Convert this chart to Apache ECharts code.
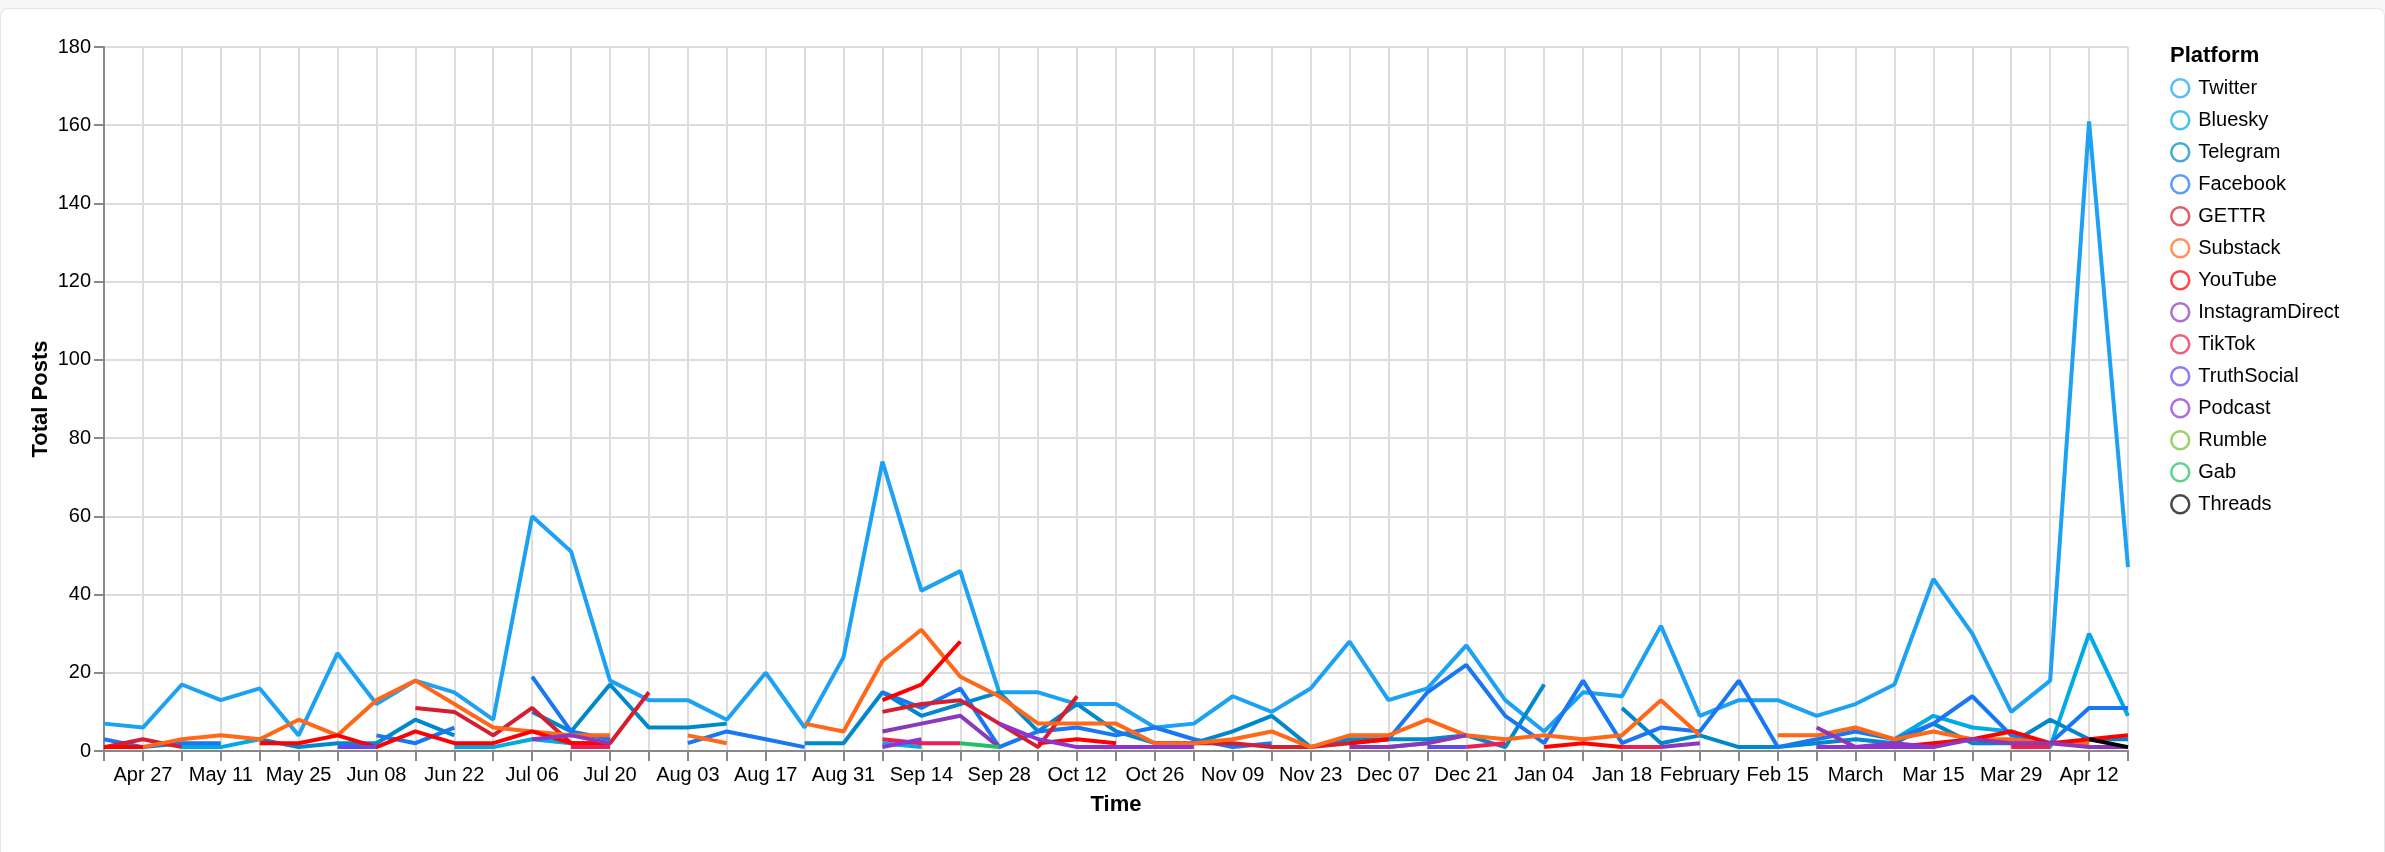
<!DOCTYPE html>
<html>
<head>
<meta charset="utf-8">
<title>Total Posts by Platform</title>
<script src="https://cdn.jsdelivr.net/npm/echarts@6/dist/echarts.min.js"></script>
<style>
  html, body { margin: 0; padding: 0; background: #f5f6f8; width: 2385px; height: 852px; overflow: hidden; }
  .card { position: absolute; left: 0; top: 8px; width: 2383px; height: 880px; background: #fff; border: 1px solid #e3e5e9; border-radius: 8px; }
  #chart { position: absolute; left: 0; top: 0; width: 2385px; height: 852px; }
</style>
</head>
<body>
<div class="card"></div>
<div id="chart"></div>
<script>
const n = null;

// weekly totals, one entry per week starting Sun 2025-04-20 (53 weeks)
const Twitter = [7,6,17,13,16,4,25,12,18,15, 8,60,51,18,13,13,8,20,6,24, 74,41,46,15,15,12,12,6,7,14, 10,16,28,13,16,27,13,5,15,14, 32,9,13,13,9,12,17,44,30,10, 18,161,47];
const Bluesky = [n,n,1,1,3,n,n,n,n,1, 1,3,2,n,n,n,n,n,n,n, 2,1,n,n,n,n,n,n,n,n, n,n,n,1,2,n,n,n,n,n, n,n,n,n,n,n,3,9,6,5, 1,30,9];
const Telegram = [n,n,n,n,3,1,2,2,8,4, n,10,5,17,6,6,7,n,2,2, 15,9,12,15,5,12,5,2,2,5, 9,1,3,3,3,4,1,17,n,11, 2,4,1,1,2,3,2,7,2,2, 8,3,3];
const Facebook = [3,1,2,2,n,n,n,4,2,6, n,19,5,3,n,2,5,3,1,n, 15,11,16,1,5,6,4,6,3,1, 2,n,n,3,15,22,9,2,18,2, 6,5,18,1,3,5,3,7,14,4, 2,11,11];
const GETTR = [1,3,1,n,n,n,n,n,11,10, 4,11,2,2,15,n,n,n,n,n, 10,12,13,7,1,14,n,2,2,2, 1,1,2,3,n,n,n,n,n,n, n,n,n,n,n,n,n,n,n,n, n,n,n];
const Substack = [n,1,3,4,3,8,4,13,18,12, 6,5,4,4,n,4,2,n,7,5, 23,31,19,14,7,7,7,2,2,3, 5,1,4,4,8,4,3,4,3,4, 13,4,n,4,4,6,3,5,3,3, 2,2,n];
const YouTube = [1,1,n,n,2,2,4,1,5,2, 2,5,2,2,n,n,n,n,n,n, 13,17,28,n,2,3,2,n,n,n, n,n,2,3,n,n,n,1,2,1, n,n,n,n,1,1,1,2,3,5, 2,3,4];
const InstagramDirect = [n,n,n,n,n,n,n,n,n,n, n,3,4,2,n,n,n,n,n,n, 5,7,9,1,n,n,n,n,n,n, n,n,1,1,2,4,n,n,n,n, 1,2,n,n,6,1,2,1,3,2, 2,1,1];
const TikTok = [n,n,n,n,n,n,n,n,n,n, n,n,1,1,n,n,n,n,n,n, 3,2,2,n,n,n,n,n,n,n, n,n,n,n,n,1,2,n,n,1, 1,n,n,n,n,n,n,n,n,1, 1,n,n];
const TruthSocial = [n,n,n,n,n,n,1,1,n,n, n,n,n,n,n,n,n,n,n,n, n,n,n,n,n,n,n,n,n,n, n,n,n,n,1,1,n,n,n,n, n,n,n,n,n,n,n,n,n,n, n,n,n];
const Podcast = [n,n,n,n,n,n,n,n,n,n, n,n,n,n,n,n,n,n,n,n, 1,3,n,7,3,1,1,1,1,n, n,n,n,n,n,n,n,n,n,n, n,n,n,n,1,1,1,1,n,n, n,n,n];
const Rumble = [n,n,n,n,n,n,n,n,n,n, n,n,n,n,n,n,n,n,n,n, n,n,n,n,n,n,n,n,n,n, n,n,n,n,n,n,n,n,n,n, n,n,n,n,n,n,n,n,n,n, n,n,n];
const Gab = [n,n,n,n,n,n,n,n,n,n, n,n,n,n,n,n,n,n,n,n, n,n,2,1,n,n,n,n,n,n, n,n,n,n,n,n,n,n,n,n, n,n,n,n,n,n,n,n,n,n, n,n,n];
const Threads = [n,n,n,n,n,n,n,n,n,n, n,n,n,n,n,n,n,n,n,n, n,n,n,n,n,n,n,n,n,n, n,n,n,n,n,n,n,n,n,n, n,n,n,n,n,n,n,n,n,n, n,3,1];

const platforms = ['Twitter','Bluesky','Telegram','Facebook','GETTR','Substack','YouTube',
  'InstagramDirect','TikTok','TruthSocial','Podcast','Rumble','Gab','Threads'];
const platformValues = [Twitter, Bluesky, Telegram, Facebook, GETTR, Substack, YouTube,
  InstagramDirect, TikTok, TruthSocial, Podcast, Rumble, Gab, Threads];
const platformColors = ['#1da1f2','#00aae4','#0088cc','#1877f2','#d41f30','#ff6719','#ff0000',
  '#8a3ab9','#ee1d52','#6448f0','#8f33d3','#74bf2c','#22c064','#000000'];

// labels for every second weekly tick (odd weeks)
const xTickLabels = ['Apr 27','May 11','May 25','Jun 08','Jun 22','Jul 06','Jul 20','Aug 03',
  'Aug 17','Aug 31','Sep 14','Sep 28','Oct 12','Oct 26','Nov 09','Nov 23','Dec 07','Dec 21',
  'Jan 04','Jan 18','February','Feb 15','March','Mar 15','Mar 29','Apr 12'];

// x position of each week, in days since Sun 2025-04-20
const weekDays = Twitter.map((_, i) => i * 7);

const FONT = 'Helvetica, "Liberation Sans", Arial, sans-serif';

function buildSeries(name, values, color) {
    return {
        name: name,
        type: 'line',
        data: values.map((v, i) => [weekDays[i], v == null ? '-' : v]),
        showSymbol: false,
        symbol: 'none',
        connectNulls: false,
        silent: true,
        lineStyle: { color: color, width: 4 },
        itemStyle: { color: color },
        emphasis: { disabled: true }
    };
}

const chart = echarts.init(document.getElementById('chart'), null, { renderer: 'canvas' });

chart.setOption({
    animation: false,
    backgroundColor: 'transparent',
    title: {
        text: 'Platform',
        left: 2170,
        top: 45,
        padding: 0,
        textStyle: { fontSize: 22, fontWeight: 'bold', color: '#000', fontFamily: FONT }
    },
    legend: {
        orient: 'vertical',
        left: 2170,
        top: 78,
        padding: 0,
        icon: 'circle',
        itemWidth: 18,
        itemHeight: 18,
        itemGap: 11.5,
        selectedMode: false,
        textStyle: { fontSize: 20, color: '#000', fontFamily: FONT, padding: [0, 0, 0, 4] },
        data: platforms.map((p, i) => ({
            name: p,
            itemStyle: { color: 'rgba(0,0,0,0)', borderColor: platformColors[i], borderWidth: 2.5, opacity: 0.72 }
        }))
    },
    grid: { left: 104, top: 47, width: 2024, height: 704, containLabel: false, outerBoundsMode: 'none' },
    xAxis: {
        type: 'value',
        min: 0,
        max: 364,
        interval: 7,
        name: 'Time',
        nameLocation: 'middle',
        nameGap: 43,
        nameMoveOverlap: false,
        nameTextStyle: { fontSize: 22, fontWeight: 'bold', color: '#000', fontFamily: FONT },
        axisLine: { show: true, lineStyle: { color: '#888', width: 2 } },
        axisTick: { show: true, length: 10, lineStyle: { color: '#888', width: 2 } },
        axisLabel: {
            fontSize: 20, color: '#000', margin: 14, fontFamily: FONT,
            formatter: v => {
                const w = Math.round(v / 7);
                return w % 2 === 1 ? xTickLabels[(w - 1) / 2] : '';
            }
        },
        splitLine: { show: true, lineStyle: { color: '#ddd', width: 2 } }
    },
    yAxis: {
        type: 'value',
        min: 0,
        max: 180,
        interval: 20,
        name: 'Total Posts',
        nameLocation: 'middle',
        nameGap: 52,
        nameMoveOverlap: false,
        nameTextStyle: { fontSize: 22, fontWeight: 'bold', color: '#000', fontFamily: FONT },
        axisLine: { show: true, lineStyle: { color: '#888', width: 2 } },
        axisTick: { show: true, length: 10, lineStyle: { color: '#888', width: 2 } },
        axisLabel: { fontSize: 20, color: '#000', margin: 13, fontFamily: FONT },
        splitLine: { show: true, lineStyle: { color: '#ddd', width: 2 } }
    },
    series: platforms.map((p, i) => buildSeries(p, platformValues[i], platformColors[i]))
});
</script>
</body>
</html>
